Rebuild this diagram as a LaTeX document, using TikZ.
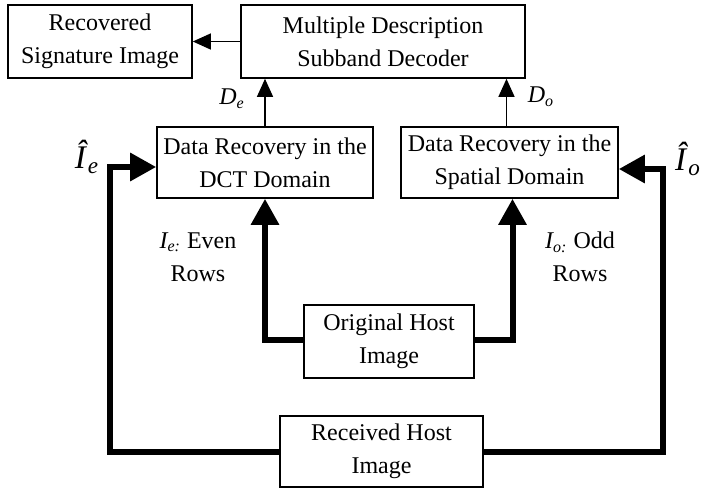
\documentclass[tikz,border=0pt]{standalone}
\usepackage{fontspec}
\setmainfont{Liberation Serif}
\usepackage{tikz}
\usetikzlibrary{positioning, arrows.meta}

\tikzset{
  block/.style={draw, line width=0.8pt, inner sep=0pt, align=center,
    font=\fontsize{12}{16.5}\selectfont},
  thinarrow/.style={line width=0.6pt, -{Triangle[length=9pt,width=8pt]}},
  thickarrow/.style={line width=3pt, -{Triangle[length=13pt,width=13.5pt]}},
  lbl/.style={inner sep=0pt, align=center, font=\fontsize{12}{16.5}\selectfont}
}

\begin{document}
\begin{tikzpicture}[x=0.5pt, y=-0.5pt]
  \useasboundingbox (0,0) rectangle (701,488);

  % decoder side
  \node[block, minimum width=92pt, minimum height=36.5pt] (rec) at (100,41.5) {Recovered\\Signature Image};
  \node[block, minimum width=142pt, minimum height=36.5pt] (dec) at (383,41.5) {Multiple Description\\Subband Decoder};

  % the two recovery blocks
  \node[block, minimum width=108pt, minimum height=35.5pt] (dct) at (265,162.5) {Data Recovery in the\\DCT Domain};
  \node[block, minimum width=108.5pt, minimum height=35.5pt] (spa) at (509.5,162.5) {Data Recovery in the\\Spatial Domain};

  % host images
  \node[block, minimum width=85pt, minimum height=36.5pt] (orig) at (389,341.5) {Original Host\\Image};
  \node[block, minimum width=101.5pt, minimum height=35.5pt] (recv) at (381.5,451.5) {Received Host\\Image};

  \coordinate (ie) at (110,167);
  \coordinate (io) at (663,169);

  % thin arrows
  \draw[thinarrow] (dec.west) -- (rec.east);
  \draw[thinarrow] (dct.north) -- (dct.north |- dec.south);
  \draw[thinarrow] ([xshift=-1.5pt]spa.north) -- ([xshift=-1.5pt]spa.north |- dec.south);
  \node[lbl] (de) at (232,99) {\textit{D\textsubscript{e}}};
  \node[lbl] (do) at (541,97) {\textit{D\textsubscript{o}}};

  % thick arrows
  \draw[thickarrow] ([yshift=0.75pt]orig.west) -| (dct.south);
  \draw[thickarrow] ([yshift=0.75pt]orig.east) -| ([xshift=1.5pt]spa.south);
  \draw[thickarrow] (recv.west) -| (ie) -- (ie -| dct.west);
  \draw[thickarrow] (recv.east) -| (io) -- (io -| spa.east);

  % labels
  \node[lbl] (iehat) at (87,157) {\fontsize{16.5}{16.5}\selectfont\textit{Î}\textsubscript{\textit{e}}};
  \node[lbl] (iohat) at (688,159) {\fontsize{16.5}{16.5}\selectfont\textit{Î}\textsubscript{\textit{o}}};
  \node[lbl] (even) at (198,257) {\textit{I\textsubscript{e:}} Even\\Rows};
  \node[lbl] (odd) at (580,257) {\textit{I\textsubscript{o:}} Odd\\Rows};
\end{tikzpicture}
\end{document}
